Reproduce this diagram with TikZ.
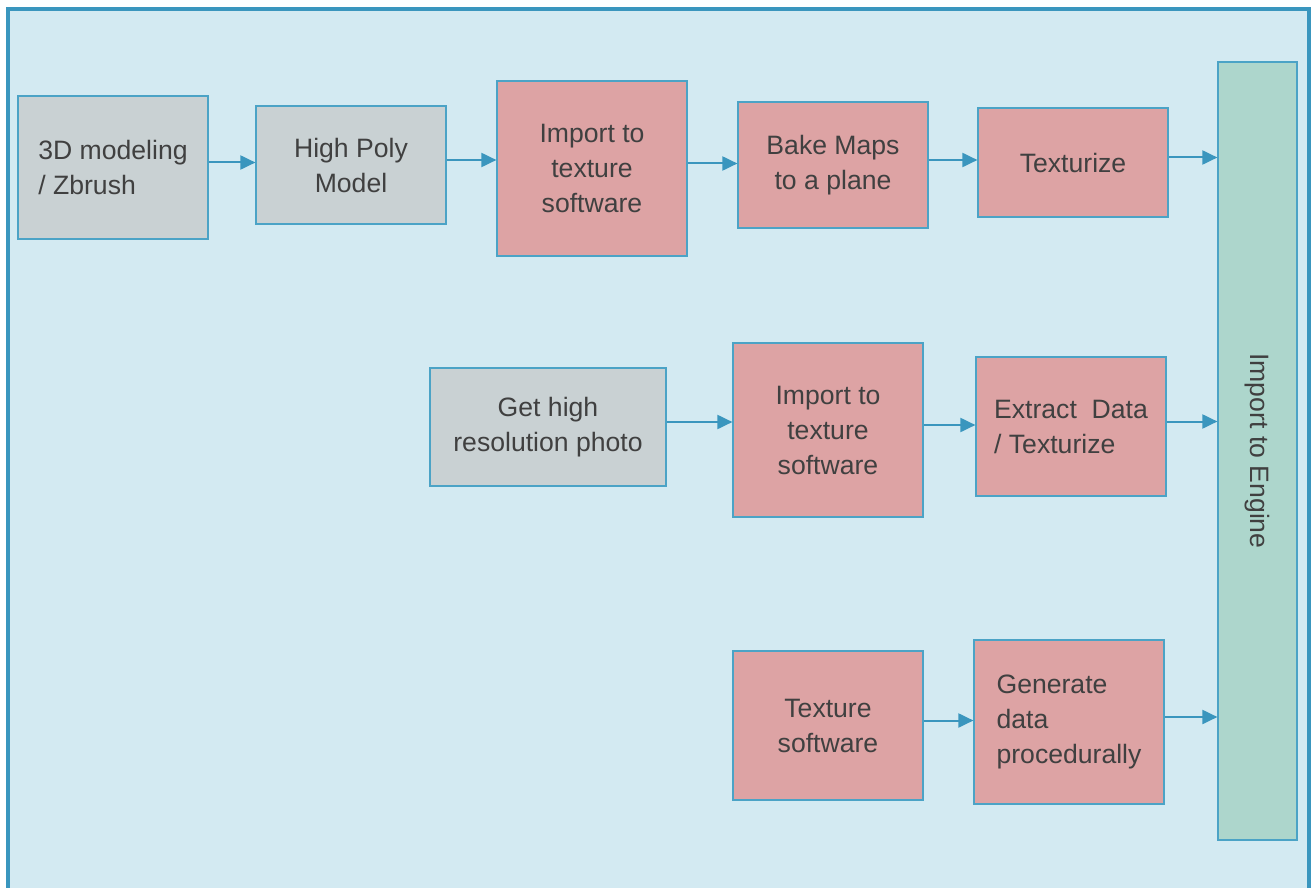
\documentclass[tikz,border=0pt]{standalone}
\usepackage{fontspec}
\setmainfont{Liberation Sans}
\usetikzlibrary{arrows.meta}
\definecolor{framecolor}{RGB}{58, 150, 190}
\definecolor{bgcolor}{RGB}{211, 234, 242}
\definecolor{modelcolor}{RGB}{201, 209, 211}
\definecolor{texcolor}{RGB}{221, 163, 164}
\definecolor{enginecolor}{RGB}{173, 214, 204}
\definecolor{boxborder}{RGB}{75, 163, 198}
\definecolor{labelcolor}{RGB}{64, 64, 64}
\tikzstyle{stage} = [rectangle, draw=boxborder, line width=0.6pt, text=labelcolor, align=center,
                     inner sep=0pt, minimum width=95pt, font=\fontsize{13.3}{17.5}\selectfont]
\tikzstyle{modelstage} = [stage, fill=modelcolor]
\tikzstyle{texstage} = [stage, fill=texcolor]
\tikzstyle{enginestage} = [stage, fill=enginecolor]
\tikzstyle{arrow} = [-{Triangle[length=7.5pt, width=7pt]}, line width=1pt, draw=framecolor, fill=framecolor]

\begin{document}
\begin{tikzpicture}[x=0.5pt, y=-0.5pt]
    \useasboundingbox (0,0) rectangle (1312,888);
    \draw[framecolor, line width=2pt, fill=bgcolor] (8,9) rectangle (1309,900);

    % Sculpting flow
    \node[modelstage, minimum height=71.5pt, align=left] (sculpt) at (113,167.5) {3D modeling\\/ Zbrush};
    \node[modelstage, minimum height=59pt] (highpoly) at (351,165) {High Poly\\Model};
    \node[texstage, minimum height=87.5pt] (import) at (592,168.5) {Import to\\texture\\software};
    \node[texstage, minimum height=63pt] (bake) at (833,165) {Bake Maps\\to a plane};
    \node[texstage, minimum height=54.5pt] (texturize) at (1073,162.5) {Texturize};

    % Engine (rotated, so its south side faces left)
    \node[enginestage, rotate=-90, minimum width=389pt, minimum height=39.5pt] (engine) at (1257.5,451) {Import to Engine};

    % Photo flow
    \node[modelstage, minimum width=118pt, minimum height=59pt] (photo) at (548,427) {Get high\\resolution photo};
    \node[texstage, minimum height=87pt] (photoimport) at (828,430) {Import to\\texture\\software};
    \node[texstage, minimum height=69.5pt, align=left] (extract) at (1071,426.5) {Extract~ Data\\/ Texturize};

    % Procedural flow
    \node[texstage, minimum height=74.5pt] (software) at (828,725.5) {Texture\\software};
    \node[texstage, minimum height=82pt, align=left] (generate) at (1069,722) {Generate\\data\\procedurally};

    % Transitions
    \draw[arrow] ([yshift=2.5pt]sculpt.east) -- ([yshift=2.5pt]sculpt.east -| highpoly.west);
    \draw[arrow] ([yshift=2.5pt]highpoly.east) -- ([yshift=2.5pt]highpoly.east -| import.west);
    \draw[arrow] ([yshift=2.5pt]import.east) -- ([yshift=2.5pt]import.east -| bake.west);
    \draw[arrow] ([yshift=2.5pt]bake.east) -- ([yshift=2.5pt]bake.east -| texturize.west);
    \draw[arrow] ([yshift=2.5pt]texturize.east) -- ([yshift=2.5pt]texturize.east -| engine.south);
    \draw[arrow] ([yshift=2.5pt]photo.east) -- ([yshift=2.5pt]photo.east -| photoimport.west);
    \draw[arrow] ([yshift=2.5pt]photoimport.east) -- ([yshift=2.5pt]photoimport.east -| extract.west);
    \draw[arrow] ([yshift=2.5pt]extract.east) -- ([yshift=2.5pt]extract.east -| engine.south);
    \draw[arrow] ([yshift=2.5pt]software.east) -- ([yshift=2.5pt]software.east -| generate.west);
    \draw[arrow] ([yshift=2.5pt]generate.east) -- ([yshift=2.5pt]generate.east -| engine.south);
\end{tikzpicture}
\end{document}
